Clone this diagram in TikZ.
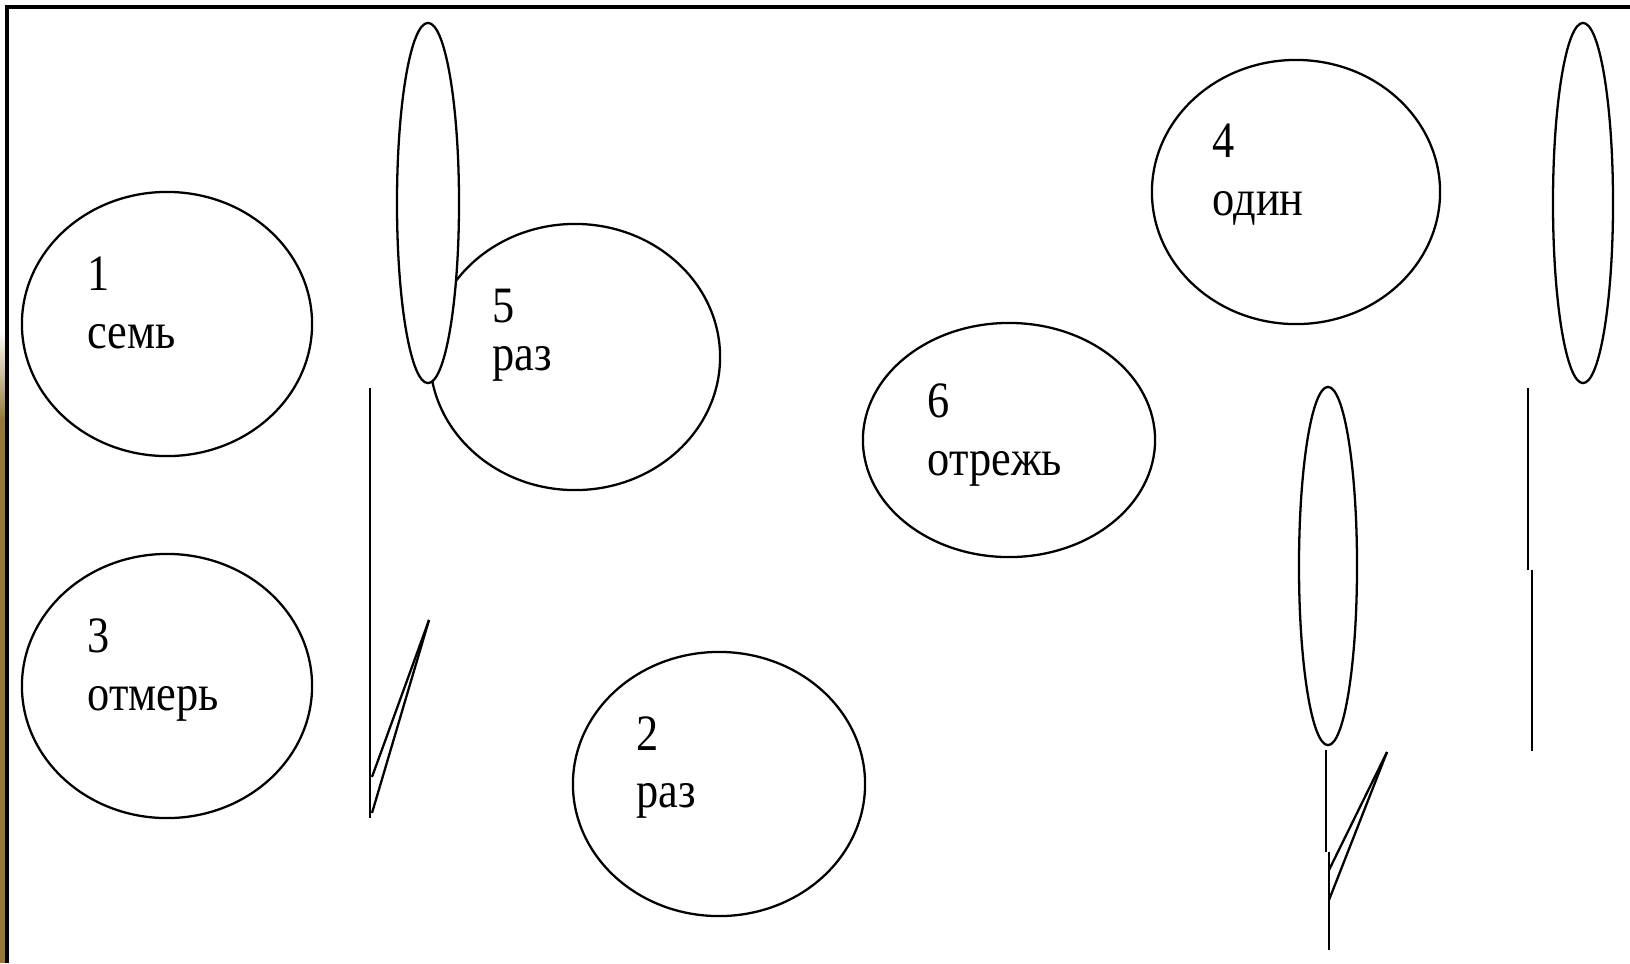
\documentclass[tikz,border=0pt]{standalone}
\usepackage{fontspec}
\setmainfont[FakeStretch=0.87]{Liberation Serif}
\definecolor{stripbrown}{RGB}{150,120,55}
\begin{document}
\begin{tikzpicture}[x=0.01cm,y=-0.01cm,
  outl/.style={draw=black,line width=0.65pt},
  frame/.style={line width=0.9pt,draw=black},
  lbl/.style={inner sep=0pt,anchor=base west,font=\fontsize{14.5}{16}\selectfont}]
\useasboundingbox (0,0) rectangle (1630,963);
\fill[white] (0,0) rectangle (1630,963);
% left brown strip
\shade[top color=white,bottom color=stripbrown] (0,330) rectangle (6,420);
\fill[stripbrown] (0,420) rectangle (6,963);
% frame
\draw[frame] (7,963) -- (7,7) -- (1630,7);
% big ellipses
\draw[outl] (167,324) ellipse [x radius=1.45cm,y radius=1.32cm];
\draw[outl] (167,686) ellipse [x radius=1.45cm,y radius=1.32cm];
\draw[outl] (575,357) ellipse [x radius=1.45cm,y radius=1.33cm];
\draw[outl] (719,784) ellipse [x radius=1.46cm,y radius=1.32cm];
\draw[outl] (1009,440) ellipse [x radius=1.46cm,y radius=1.17cm];
\draw[outl] (1296,192) ellipse [x radius=1.44cm,y radius=1.32cm];
% left plant
\draw[outl,fill=white] (428,203) ellipse [x radius=0.31cm,y radius=1.80cm];
\draw[outl] (370,388) -- (370,818);
\coordinate (lt) at (429,620);
\coordinate (lb1) at (372,777);
\coordinate (lb2) at (372,813);
\draw[outl] (lb1) -- (lt);
\draw[outl] (lb2) -- (lt);
% middle plant
\draw[outl] (1328,566) ellipse [x radius=0.29cm,y radius=1.79cm];
\draw[outl] (1326,750) -- (1326,852);
\draw[outl] (1329,852) -- (1329,950);
\coordinate (mt) at (1387,752);
\coordinate (mb1) at (1329,870);
\coordinate (mb2) at (1329,900);
\draw[outl] (mb1) -- (mt);
\draw[outl] (mb2) -- (mt);
% right plant
\draw[outl] (1583,203) ellipse [x radius=0.30cm,y radius=1.80cm];
\draw[outl] (1528,388) -- (1528,570);
\draw[outl] (1532,570) -- (1532,751);
% labels
\node[lbl] (n1) at (87,290) {1};
\node[lbl] (w1) at (87,348) {семь};
\node[lbl] (n3) at (87,652) {3};
\node[lbl] (w3) at (87,710) {отмерь};
\node[lbl] (n5) at (492,322) {5};
\node[lbl] (w5) at (492,370) {раз};
\node[lbl] (n2) at (636,750) {2};
\node[lbl] (w2) at (636,807) {раз};
\node[lbl] (n6) at (927,417) {6};
\node[lbl] (w6) at (927,475) {отрежь};
\node[lbl] (n4) at (1212,157) {4};
\node[lbl] (w4) at (1212,215) {один};
\end{tikzpicture}
\end{document}
